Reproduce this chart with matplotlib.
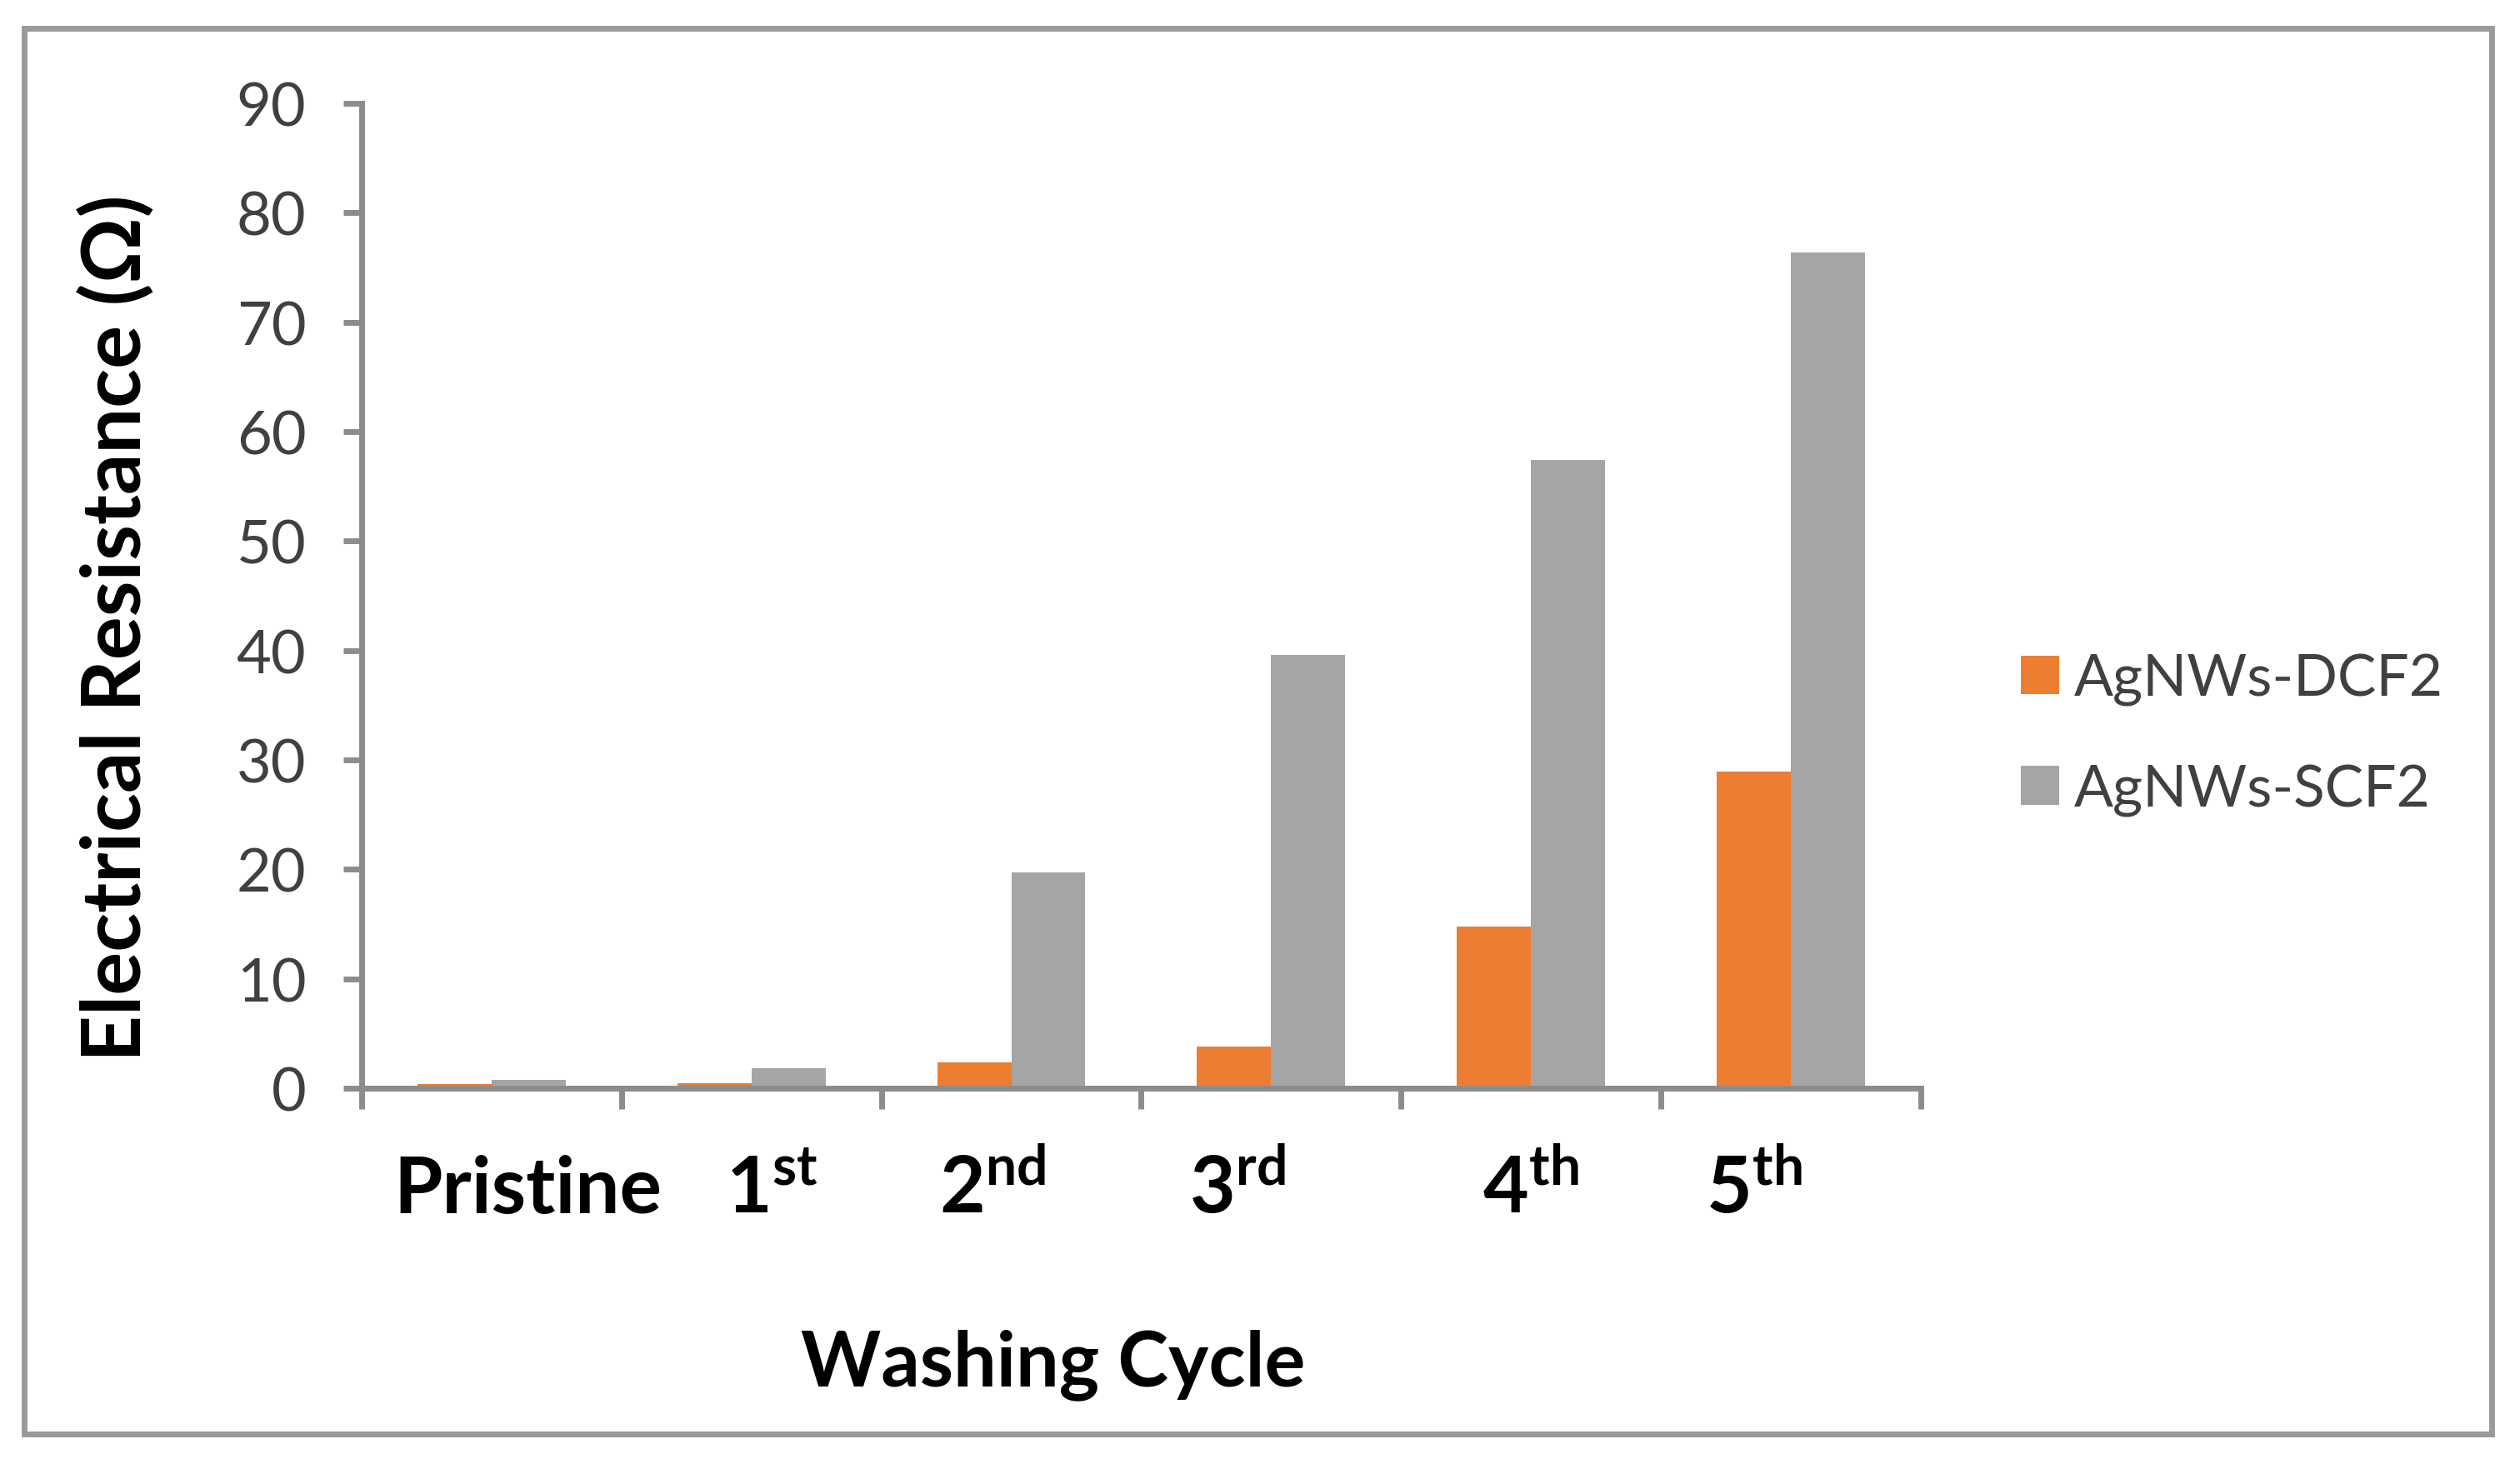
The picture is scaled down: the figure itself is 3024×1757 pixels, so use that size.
import numpy as np
import matplotlib
matplotlib.use("Agg")
import matplotlib.pyplot as plt
from matplotlib.patches import Rectangle
import matplotlib.transforms as mtransforms

# --------------------------------
# DATA
# --------------------------------

ciclos = [
    "Pristine",
    r"$\mathbf{1^{st}}$",
    r"$\mathbf{2^{nd}}$",
    r"$\mathbf{3^{rd}}$",
    r"$\mathbf{4^{th}}$",
    r"$\mathbf{5^{th}}$",
]

dcf2 = [0.4, 0.5, 2.4, 3.8, 14.8, 28.9]
scf2 = [0.8, 1.8, 19.7, 39.6, 57.4, 76.4]

yticks = [0, 10, 20, 30, 40, 50, 60, 70, 80, 90]

# --------------------------------
# STYLE
# --------------------------------

plt.rcParams["font.family"] = ["Lato", "DejaVu Sans"]
plt.rcParams["mathtext.fontset"] = "custom"
plt.rcParams["mathtext.rm"] = "Lato"
plt.rcParams["mathtext.bf"] = "Lato:bold"

NARANJA = "#ED7D31"
GRIS = "#A5A5A5"
EJE = "#8C8C8C"
TEXTO = "#404040"

# small horizontal shifts of the category labels (in category units)
desplaz = [0.14, 0.08, -0.07, -0.13, 0.0, -0.14]

fig = plt.figure(figsize=(15.12, 8.79), dpi=200)
ax = fig.add_axes([0.1435, 0.2565, 0.6187, 0.6724])

x = np.arange(len(ciclos))
ancho = 0.285

ax.bar(x - ancho / 2, dcf2, ancho, color=NARANJA, label="AgNWs-DCF2")
ax.bar(x + ancho / 2, scf2, ancho, color=GRIS, label="AgNWs-SCF2")

ax.set_xlim(-0.5, len(ciclos) - 0.5)
ax.set_ylim(0, 90)
ax.set_yticks(yticks)

for lado in ["top", "right"]:
    ax.spines[lado].set_visible(False)
for lado in ["left", "bottom"]:
    ax.spines[lado].set_color(EJE)
    ax.spines[lado].set_linewidth(2.5)

ax.tick_params(axis="y", direction="out", length=8, width=2.5,
               color=EJE, labelsize=26, labelcolor=TEXTO, pad=16)
ax.set_xticks(x)
ax.set_xticklabels([])
ax.tick_params(axis="x", which="major", length=0)
ax.set_xticks(np.arange(-0.5, len(ciclos)), minor=True)
ax.tick_params(axis="x", which="minor", direction="out", length=9,
               width=2.5, color=EJE)

# category labels, aligned on baseline
trans = mtransforms.blended_transform_factory(ax.transData, ax.transAxes)
for i, lab in enumerate(ciclos):
    ax.text(i + desplaz[i], -0.126, lab, transform=trans, ha="center",
            va="baseline", fontsize=34, fontweight="bold", color="black")

fig.text(0.418, 0.068, "Washing Cycle", ha="center", va="center",
         fontsize=33, fontweight="bold", color="black")

fig.text(0.046, 0.571, "Electrical Resistance (Ω)", ha="center",
         va="center", rotation=90, fontsize=35, fontweight="bold",
         color="black")

# --------------------------------
# LEGEND
# --------------------------------

fig.legend(loc="center left", bbox_to_anchor=(0.802, 0.498),
           frameon=False, fontsize=25, handlelength=0.66,
           handleheight=0.66, handletextpad=0.25, labelspacing=1.0,
           labelcolor=TEXTO, borderaxespad=0, borderpad=0)

# --------------------------------
# BORDER
# --------------------------------

fig.patches.append(Rectangle((0.0096, 0.0205), 0.9792, 0.9595,
                             transform=fig.transFigure, fill=False,
                             edgecolor="#9A9A9A", linewidth=2.5))

plt.savefig("out.png", dpi=200)
